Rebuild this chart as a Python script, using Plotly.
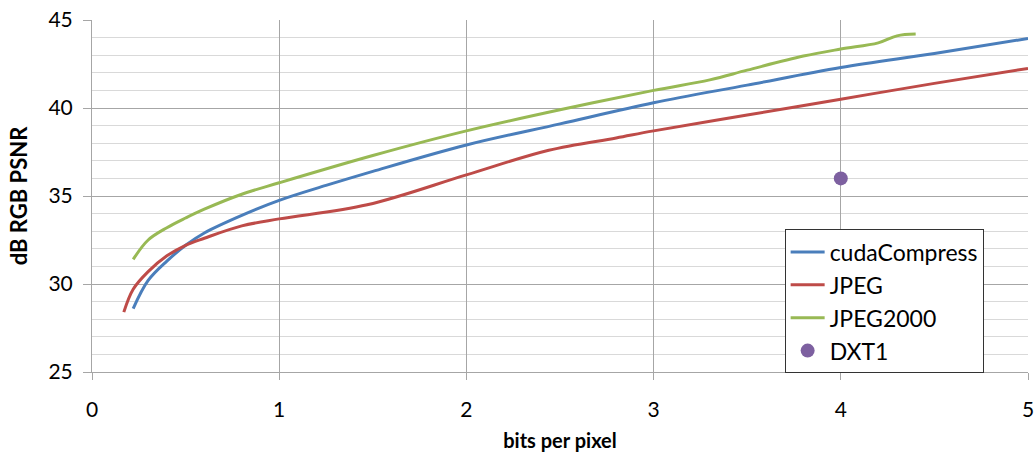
import plotly.graph_objects as go

cuda_x = [0.22, 0.3, 0.4, 0.5, 0.6, 0.8, 1.0, 1.25, 1.5, 2.0, 2.5, 3.0, 3.5, 4.0, 4.5, 5.0]
cuda_y = [28.6, 30.2, 31.3, 32.2, 32.9, 33.9, 34.75, 35.6, 36.4, 37.9, 39.1, 40.3, 41.3, 42.3, 43.1, 43.95]

jpeg_x = [0.17, 0.22, 0.3, 0.4, 0.5, 0.6, 0.8, 1.0, 1.47, 2.0, 2.44, 2.8, 3.0, 3.5, 4.0, 4.5, 5.0]
jpeg_y = [28.4, 29.7, 30.7, 31.6, 32.2, 32.6, 33.3, 33.7, 34.5, 36.2, 37.6, 38.3, 38.7, 39.6, 40.5, 41.4, 42.25]

j2k_x = [0.22, 0.3, 0.4, 0.5, 0.6, 0.8, 1.0, 1.5, 2.0, 2.5, 3.0, 3.3, 3.5, 3.8, 4.0, 4.2, 4.3, 4.4]
j2k_y = [31.4, 32.5, 33.2, 33.75, 34.25, 35.1, 35.75, 37.3, 38.7, 39.9, 41.0, 41.6, 42.15, 42.95, 43.35, 43.7, 44.1, 44.2]

dxt_x = [4.0]
dxt_y = [36.0]

FONT = "Lato, 'Open Sans', sans-serif"

fig = go.Figure()
fig.add_trace(go.Scatter(x=cuda_x, y=cuda_y, mode="lines", name="cudaCompress",
                         line=dict(color="#4A7EBB", width=3, shape="spline", smoothing=1)))
fig.add_trace(go.Scatter(x=jpeg_x, y=jpeg_y, mode="lines", name="JPEG",
                         line=dict(color="#BE4B48", width=3, shape="spline", smoothing=1)))
fig.add_trace(go.Scatter(x=j2k_x, y=j2k_y, mode="lines", name="JPEG2000",
                         line=dict(color="#98B954", width=3, shape="spline", smoothing=1)))
fig.add_trace(go.Scatter(x=dxt_x, y=dxt_y, mode="markers", name="DXT1",
                         marker=dict(color="#7D60A0", size=14)))

fig.update_layout(
    width=1035, height=459,
    margin=dict(l=92, r=7, t=20, b=87),
    paper_bgcolor="white", plot_bgcolor="white",
    font=dict(family=FONT, size=21, color="black"),
    legend=dict(x=0.74, y=0.405, xanchor="left", yanchor="top",
                bordercolor="#333333", borderwidth=1, bgcolor="white",
                font=dict(size=23), tracegroupgap=0, itemwidth=34),
    xaxis=dict(range=[0, 5], dtick=1, showgrid=True, gridcolor="#A6A6A6", gridwidth=1,
               showline=True, linecolor="#A6A6A6", linewidth=1, mirror=False,
               ticks="outside", ticklen=7, tickcolor="#A6A6A6",
               zeroline=False, automargin=False, ticklabelstandoff=12,
               title=dict(text="<b>bits per pixel</b>", font=dict(size=20), standoff=13)),
    yaxis=dict(range=[25, 45], dtick=5, showgrid=True, gridcolor="#A6A6A6", gridwidth=1,
               showline=True, linecolor="#A6A6A6", linewidth=1,
               ticks="outside", ticklen=8, tickcolor="#A6A6A6",
               zeroline=False, automargin=False, ticklabelstandoff=6,
               minor=dict(dtick=1, showgrid=True, gridcolor="#D9D9D9", gridwidth=1),
               title=dict(text="<b>dB RGB PSNR</b>", font=dict(size=22), standoff=14)),
)

fig.write_html("out.html")
